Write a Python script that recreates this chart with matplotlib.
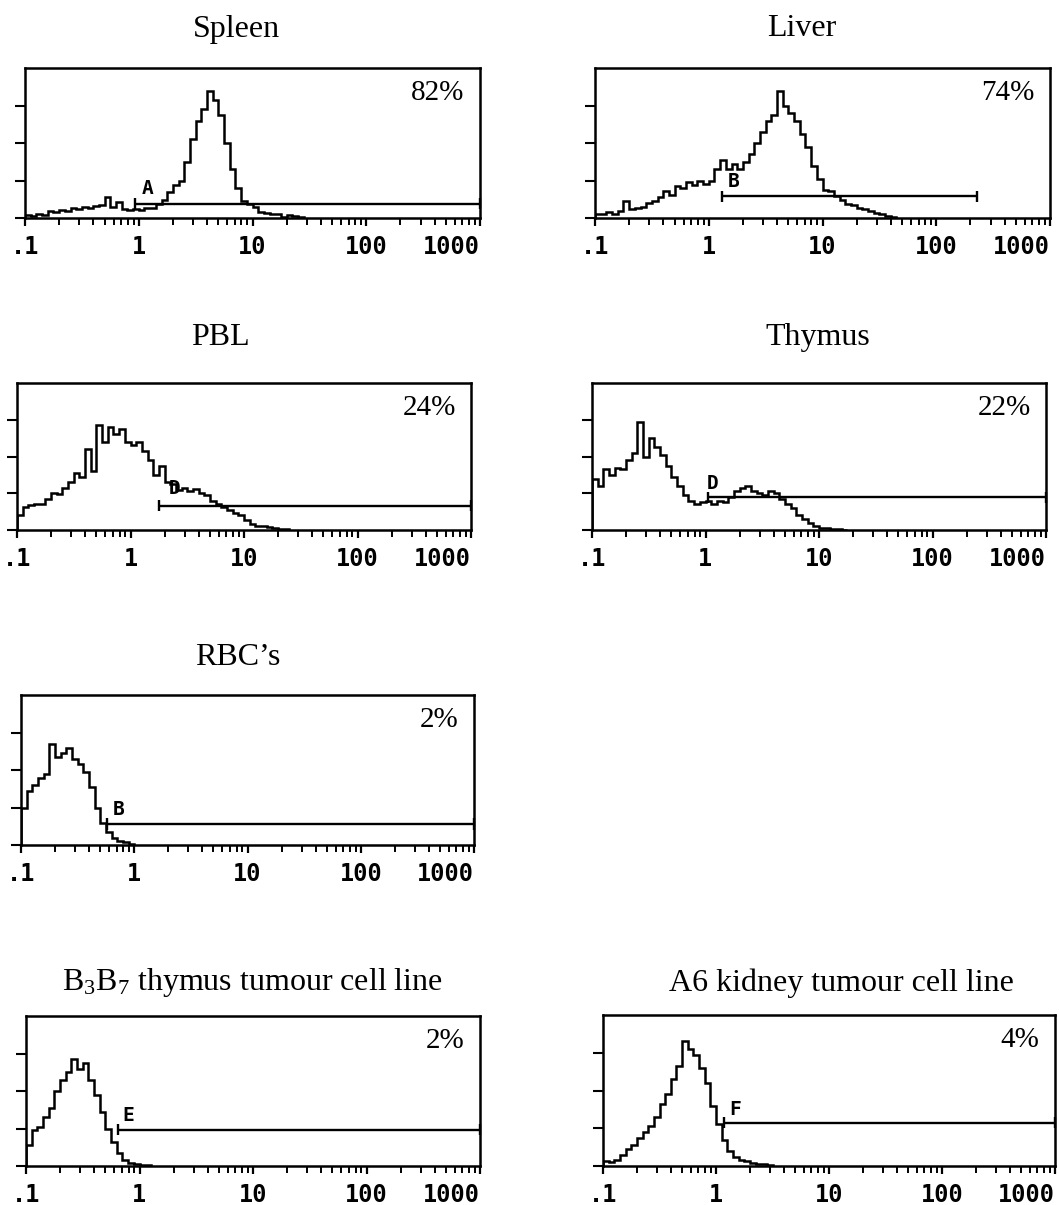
import numpy as np
import matplotlib
matplotlib.use("Agg")
import matplotlib.pyplot as plt
from matplotlib.ticker import LogLocator, NullFormatter, FixedLocator

plt.rcParams['mathtext.fontset'] = 'custom'
plt.rcParams['mathtext.rm'] = 'Liberation Serif'
plt.rcParams['mathtext.it'] = 'Liberation Serif:italic'

W, H = 1059, 1205

# ---- data ----
BIN_DECADES = 0.05       # histogram channel width in decades
LOG_START = -1.0         # first channel starts at 0.1

titles = ["Spleen", "Liver", "PBL", "Thymus", "RBC\u2019s",
          r"B$_{\mathrm{3}}$B$_{\mathrm{7}}$ thymus tumour cell line",
          "A6 kidney tumour cell line"]

spleen = [0.08, 0.05, 0.12, 0.08, 0.18, 0.15, 0.22, 0.20, 0.28, 0.24,
          0.30, 0.26, 0.32, 0.36, 0.55, 0.30, 0.42, 0.25, 0.22, 0.25,
          0.22, 0.28, 0.26, 0.38, 0.48, 0.70, 0.88, 1.00, 1.50, 2.10,
          2.60, 2.90, 3.40, 3.15, 2.75, 2.00, 1.30, 0.80, 0.45, 0.38,
          0.30, 0.16, 0.14, 0.12, 0.10, 0.04, 0.07, 0.05, 0.02]
liver = [0.12, 0.10, 0.15, 0.12, 0.18, 0.45, 0.25, 0.28, 0.30, 0.40,
         0.45, 0.55, 0.72, 0.62, 0.85, 0.80, 0.95, 0.88, 0.98, 0.92,
         1.00, 1.30, 1.55, 1.30, 1.45, 1.30, 1.50, 1.70, 2.00, 2.30,
         2.60, 2.75, 3.40, 3.00, 2.80, 2.60, 2.25, 1.90, 1.40, 1.05,
         0.75, 0.72, 0.60, 0.48, 0.38, 0.35, 0.28, 0.24, 0.18, 0.14,
         0.12, 0.06, 0.02]
pbl = [0.40, 0.62, 0.68, 0.72, 0.70, 0.85, 1.00, 0.98, 1.15, 1.30,
       1.55, 1.45, 2.20, 1.60, 2.85, 2.40, 2.80, 2.60, 2.75, 2.40,
       2.30, 2.40, 2.15, 1.90, 1.50, 1.75, 1.30, 1.25, 1.10, 1.15,
       1.05, 1.12, 1.00, 0.95, 0.80, 0.70, 0.62, 0.55, 0.45, 0.42,
       0.27, 0.15, 0.12, 0.10, 0.08, 0.06, 0.04, 0.02]
thymus = [1.40, 1.20, 1.65, 1.50, 1.70, 1.65, 1.90, 2.10, 2.95, 2.00,
          2.50, 2.25, 2.05, 1.75, 1.45, 1.20, 0.95, 0.80, 0.72, 0.75,
          0.78, 0.72, 0.80, 0.76, 0.90, 1.05, 1.15, 1.20, 1.05, 1.00,
          0.95, 1.05, 1.00, 0.85, 0.70, 0.60, 0.40, 0.30, 0.18, 0.10,
          0.06, 0.05, 0.04, 0.03, 0.01]
rbc = [1.00, 1.45, 1.60, 1.80, 1.90, 2.70, 2.35, 2.45, 2.60, 2.30,
       2.15, 1.95, 1.55, 1.00, 0.60, 0.35, 0.18, 0.10, 0.08, 0.03]
b3b7 = [0.55, 0.95, 1.05, 1.30, 1.55, 2.00, 2.30, 2.50, 2.85, 2.60,
        2.75, 2.30, 1.90, 1.45, 1.00, 0.65, 0.35, 0.15, 0.08, 0.06,
        0.04, 0.02]
a6 = [0.12, 0.10, 0.15, 0.30, 0.45, 0.55, 0.75, 0.90, 1.05, 1.30,
      1.65, 1.90, 2.30, 2.65, 3.30, 3.10, 2.95, 2.60, 2.20, 1.60,
      1.10, 0.70, 0.40, 0.25, 0.15, 0.12, 0.08, 0.06, 0.04, 0.02]
histograms = [spleen, liver, pbl, thymus, rbc, b3b7, a6]

percents = ["82%", "74%", "24%", "22%", "2%", "2%", "4%"]
gate_letters = ["A", "B", "D", "D", "B", "E", "F"]
gate_start = [0.93, 1.3, 1.8, 1.06, 0.57, 0.65, 1.17]
gate_end = [1000, 228, 1000, 1000, 1000, 1000, 1000]
gate_level = [0.38, 0.58, 0.66, 0.89, 0.56, 0.97, 1.15]
letter_x = [1.19, 1.65, 2.46, 1.16, 0.73, 0.80, 1.48]
letter_y = [0.80, 0.98, 1.14, 1.27, 0.95, 1.35, 1.50]

x_tick_values = [0.1, 1, 10, 100, 1000]
x_tick_labels = [".1", "1", "10", "100", "1000"]
y_tick_values = [0, 1, 2, 3]

# ---- layout (pixels: left, top, right, bottom) ----
boxes = [(25, 68, 480, 218), (595, 68, 1050, 218),
         (17, 383, 471, 530), (592, 383, 1046, 530),
         (21, 695, 474, 845),
         (26, 1016, 480, 1166), (603, 1015, 1055, 1166)]
title_pos = [(236, 37), (802, 36), (220, 345), (818, 345), (238, 665),
             (252, 990), (841, 991)]

fig = plt.figure(figsize=(W / 100, H / 100), dpi=100)
fig.patch.set_facecolor("white")

serif = ["Liberation Serif", "DejaVu Serif"]
mono = ["DejaVu Sans Mono"]

for i, vals in enumerate(histograms):
    l, t, r, b = boxes[i]
    ax = fig.add_axes([l / W, 1 - b / H, (r - l) / W, (b - t) / H])
    v = np.array(vals)
    edges = 10 ** (LOG_START + BIN_DECADES * np.arange(len(v) + 1))
    ax.stairs(v, edges, baseline=0, color="black", lw=1.8)
    ax.set_xscale("log")
    ax.set_xlim(0.1, 1000)
    ax.set_ylim(0, 4)

    ax.xaxis.set_major_locator(FixedLocator(x_tick_values))
    ax.set_xticklabels(x_tick_labels, fontfamily=mono, fontweight="bold",
                       fontsize=17)
    ax.get_xticklabels()[-1].set_ha("right")
    ax.xaxis.set_minor_locator(LogLocator(base=10, subs=np.arange(2, 10)))
    ax.xaxis.set_minor_formatter(NullFormatter())
    ax.set_yticks(y_tick_values)
    ax.set_yticklabels([])
    ax.tick_params(axis="x", which="major", length=6, width=1.6,
                   direction="out", pad=6, colors="black")
    ax.tick_params(axis="x", which="minor", length=5, width=1.4,
                   direction="out")
    ax.tick_params(axis="y", which="major", length=7, width=1.5,
                   direction="out")
    for s in ax.spines.values():
        s.set_linewidth(1.8)

    # gate marker
    ax.hlines(gate_level[i], gate_start[i], gate_end[i], color="black",
              lw=1.7, clip_on=False)
    ax.vlines([gate_start[i], gate_end[i]], gate_level[i] - 0.15,
              gate_level[i] + 0.15, color="black", lw=1.7, clip_on=False)
    ax.text(letter_x[i], letter_y[i], gate_letters[i], fontfamily=mono,
            fontweight="bold", fontsize=14, ha="center", va="center")

    ax.annotate(percents[i], xy=(1, 1), xycoords="axes fraction",
                xytext=(-11, -18), textcoords="offset points",
                ha="right", va="center", fontfamily=serif, fontsize=21)

    tx, ty = title_pos[i]
    fig.text(tx / W, 1 - ty / H, titles[i], fontfamily=serif, fontsize=23,
             ha="center", va="baseline")

fig.savefig("out.png", dpi=100, facecolor="white")
